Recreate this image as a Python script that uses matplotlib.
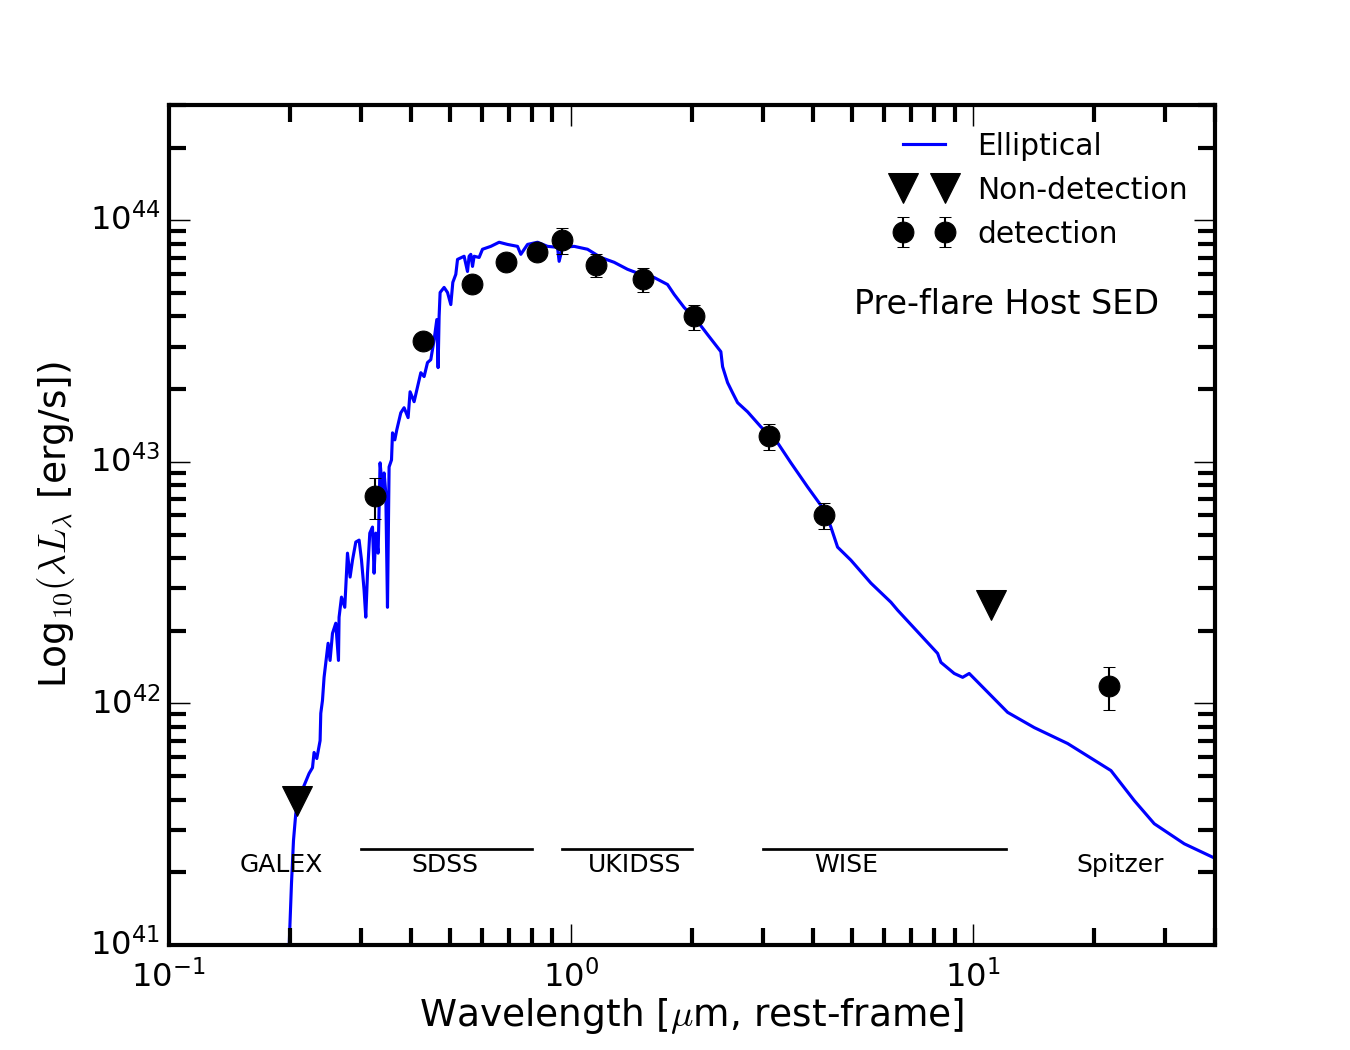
import matplotlib
matplotlib.use('Agg')
import matplotlib.pyplot as plt
import numpy as np

# elliptical template, traced (log10 of wavelength in micron, log10 of lambda*L_lambda)
sed_log_wave = [-0.7015, -0.6948, -0.6898, -0.6841, -0.6759, -0.6634, -0.6510, -0.6425, -0.6386, -0.6318,
                -0.6236, -0.6219, -0.6177, -0.6137, -0.6095, -0.6037, -0.5988, -0.5928, -0.5846, -0.5779,
                -0.5764, -0.5704, -0.5622, -0.5597, -0.5555, -0.5490, -0.5430, -0.5348, -0.5266, -0.5206,
                -0.5142, -0.5100, -0.5057, -0.5000, -0.4933, -0.4893, -0.4851, -0.4793, -0.4744, -0.4684,
                -0.4644, -0.4602, -0.4560, -0.4520, -0.4460, -0.4435, -0.4378, -0.4328, -0.4229, -0.4147,
                -0.4047, -0.3998, -0.3898, -0.3813, -0.3731, -0.3649, -0.3565, -0.3483, -0.3400, -0.3333,
                -0.3301, -0.3276, -0.3251, -0.3152, -0.3067, -0.2985, -0.2935, -0.2861, -0.2818, -0.2654,
                -0.2570, -0.2530, -0.2488, -0.2445, -0.2405, -0.2281, -0.2197, -0.1990, -0.1784, -0.1575,
                -0.1326, -0.1244, -0.1077, -0.0828, -0.0580, -0.0331, -0.0291, -0.0206, 0.0082, 0.0415,
                0.0746, 0.1077, 0.1410, 0.1741, 0.2072, 0.2405, 0.2570, 0.2818, 0.3152, 0.3400,
                0.3731, 0.3774, 0.3898, 0.4022, 0.4147, 0.4396, 0.4726, 0.5142, 0.5473, 0.5888,
                0.6301, 0.6468, 0.6634, 0.6965, 0.7463, 0.7960, 0.8127, 0.8706, 0.9122, 0.9204,
                0.9535, 0.9744, 0.9908, 1.0448, 1.0863, 1.1525, 1.2356, 1.3433, 1.4012, 1.4510,
                1.5256, 1.6045]
sed_log_lum = [40.954, 41.253, 41.432, 41.544, 41.610, 41.660, 41.710, 41.734, 41.797, 41.772,
               41.846, 41.959, 42.012, 42.108, 42.166, 42.249, 42.178, 42.290, 42.332, 42.178,
               42.357, 42.440, 42.398, 42.481, 42.622, 42.523, 42.593, 42.668, 42.676, 42.593,
               42.469, 42.357, 42.539, 42.705, 42.730, 42.539, 42.705, 42.622, 42.996, 42.884,
               42.954, 42.871, 42.398, 42.979, 43.008, 43.120, 43.091, 43.133, 43.203, 43.224,
               43.183, 43.290, 43.249, 43.311, 43.369, 43.353, 43.411, 43.423, 43.506, 43.589,
               43.390, 43.602, 43.701, 43.722, 43.701, 43.651, 43.743, 43.776, 43.838, 43.851,
               43.788, 43.851, 43.859, 43.809, 43.851, 43.846, 43.880, 43.892, 43.909, 43.900,
               43.892, 43.859, 43.900, 43.909, 43.892, 43.888, 43.830, 43.888, 43.892, 43.880,
               43.846, 43.826, 43.797, 43.776, 43.763, 43.734, 43.693, 43.639, 43.581, 43.527,
               43.456, 43.394, 43.328, 43.286, 43.245, 43.207, 43.145, 43.079, 42.996, 42.896,
               42.801, 42.730, 42.647, 42.593, 42.498, 42.419, 42.386, 42.282, 42.207, 42.170,
               42.124, 42.108, 42.124, 42.033, 41.963, 41.900, 41.834, 41.722, 41.598, 41.502,
               41.419, 41.357]

# photometry
det_wave = [0.325, 0.428, 0.567, 0.689, 0.823, 0.950, 1.154, 1.51, 2.02, 3.11, 4.26, 21.8]
det_lum = [7.2e42, 3.15e43, 5.45e43, 6.7e43, 7.4e43, 8.25e43, 6.55e43, 5.7e43, 4.0e43, 1.28e43, 6.0e42, 1.18e42]
det_err = [1.4e42, 2e42, 3e42, 3e42, 3e42, 1.0e43, 7e42, 6.5e42, 4.7e42, 1.6e42, 7.5e41, 2.4e41]

nondet_wave = [0.208, 11.1]
nondet_lum = [3.96e41, 2.55e42]

# instrument coverage
inst_names = ['GALEX', 'SDSS', 'UKIDSS', 'WISE', 'Spitzer']
inst_label_x = [0.191, 0.486, 1.44, 4.83, 23.2]
band_start = [0.30, 0.95, 3.0]
band_end = [0.80, 2.0, 12.1]
band_y = 2.5e41
inst_label_y = 2.15e41

plt.style.use('classic')
plt.rcParams['mathtext.fontset'] = 'cm'
plt.rcParams['axes.linewidth'] = 2

fig = plt.figure(figsize=(9, 7), dpi=150, facecolor='white')
ax = fig.add_subplot(111)

wave = 10 ** np.array(sed_log_wave)
lum = 10 ** np.array(sed_log_lum)
ax.plot(wave, lum, 'b-', lw=1.5, label='Elliptical')
ax.plot(nondet_wave, nondet_lum, 'kv', ms=14, label='Non-detection')
ax.errorbar(det_wave, det_lum, yerr=det_err, fmt='ko', ms=10, ecolor='k', capsize=3, label='detection')

for s, e in zip(band_start, band_end):
    ax.plot([s, e], [band_y, band_y], 'k-', lw=1.3)
for name, x in zip(inst_names, inst_label_x):
    ax.text(x, inst_label_y, name, fontsize=12, ha='center', va='center')

ax.text(12.1, 4.48e43, 'Pre-flare Host SED', fontsize=16, ha='center', va='center')

ax.set_xscale('log')
ax.set_yscale('log')
ax.set_xlim(0.1, 40)
ax.set_ylim(1e41, 3e44)

ax.tick_params(which='major', length=10, width=0.7, labelsize=15.5, direction='in', top=True, right=True)
ax.tick_params(which='minor', length=8, width=2, direction='in', top=True, right=True)
ax.tick_params(axis='x', which='major', pad=7)

ax.set_xlabel(r'Wavelength [$\mu$m, rest-frame]', fontsize=18, labelpad=1)
ax.set_ylabel(r'Log$_{10}(\lambda L_\lambda$ [erg/s])', fontsize=18, labelpad=6)

ax.legend(loc='upper right', frameon=False, numpoints=2, fontsize=14.3)

fig.savefig('out.png', dpi=150, facecolor='white')
